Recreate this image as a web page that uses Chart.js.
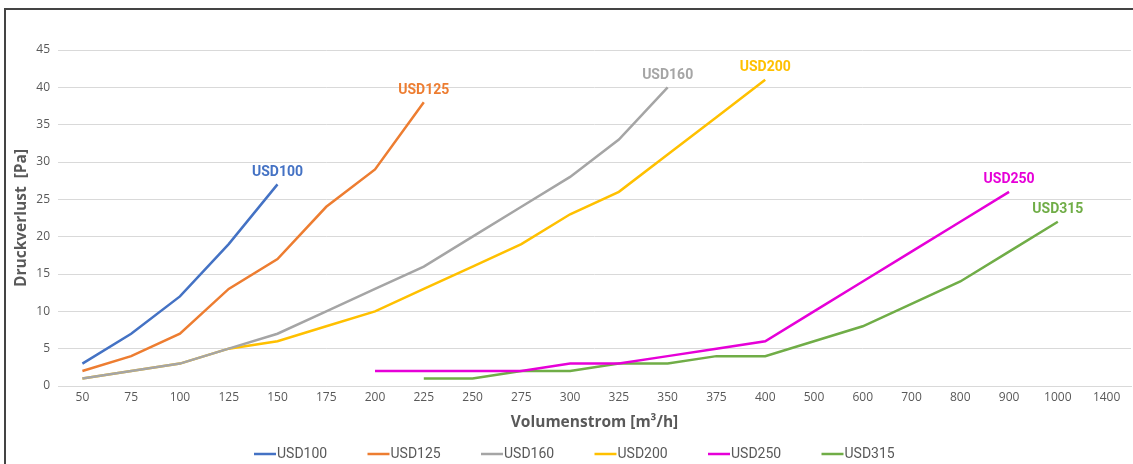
<!DOCTYPE html>
<html>
<head>
<meta charset="utf-8">
<script src="https://cdn.jsdelivr.net/npm/chart.js@4"></script>
<style>
  html, body { margin: 0; padding: 0; background: #fff; }
  #wrap { position: relative; width: 1133px; height: 464px; overflow: hidden; }
  #frame { position: absolute; left: 4px; top: 8px; width: 1200px; height: 500px;
           border-left: 2px solid #444; border-top: 2px solid #444; box-sizing: border-box; pointer-events: none; }
  canvas { position: absolute; left: 0; top: 0; }
</style>
</head>
<body>
<div id="wrap">
  <canvas id="chart" width="1133" height="464"></canvas>
  <div id="frame"></div>
</div>
<script>
// x categories (Volumenstrom m3/h)
const flows = ['50','75','100','125','150','175','200','225','250','275','300','325','350','375','400',
               '500','600','700','800','900','1000','1400'];

// pressure drop per model, null = no value
const usd100 = [3, 7, 12, 19, 27];
const usd125 = [2, 4, 7, 13, 17, 24, 29, 38];
const usd160 = [1, 2, 3, 5, 7, 10, 13, 16, 20, 24, 28, 33, 40];
const usd200 = [1, 2, 3, 5, 6, 8, 10, 13, 16, 19, 23, 26, 31, 36, 41];
const usd250 = [null, null, null, null, null, null, 2, 2, 2, 2, 3, 3, 4, 5, 6, 10, 14, 18, 22, 26];
const usd315 = [null, null, null, null, null, null, null, 1, 1, 2, 2, 3, 3, 4, 4, 6, 8, 11, 14, 18, 22];

const yTicks = [0, 5, 10, 15, 20, 25, 30, 35, 40, 45];

const series = [
  { label: 'USD100', data: usd100, color: '#4472C4' },
  { label: 'USD125', data: usd125, color: '#ED7D31' },
  { label: 'USD160', data: usd160, color: '#A5A5A5' },
  { label: 'USD200', data: usd200, color: '#FFC000' },
  { label: 'USD250', data: usd250, color: '#E600D8' },
  { label: 'USD315', data: usd315, color: '#70AD47' }
];

// series name written above the last point of each line
const endLabels = {
  id: 'endLabels',
  afterDatasetsDraw(chart) {
    const ctx = chart.ctx;
    ctx.save();
    ctx.font = 'bold 14px Roboto';
    ctx.textAlign = 'center';
    ctx.textBaseline = 'bottom';
    chart.data.datasets.forEach((ds, i) => {
      const pts = chart.getDatasetMeta(i).data;
      let last = ds.data.length - 1;
      while (last >= 0 && ds.data[last] == null) last--;
      const p = pts[last];
      ctx.fillStyle = ds.borderColor;
      ctx.fillText(ds.label, p.x, p.y - 5);
    });
    ctx.restore();
  }
};

// legend row at the bottom: short line touching the name, Excel style
const bottomLegend = {
  id: 'bottomLegend',
  afterDraw(chart) {
    const ctx = chart.ctx;
    const y = 454;
    let x = 254;
    ctx.save();
    ctx.font = '14px Roboto';
    ctx.textBaseline = 'middle';
    ctx.textAlign = 'left';
    chart.data.datasets.forEach(ds => {
      ctx.strokeStyle = ds.borderColor;
      ctx.lineWidth = 2.5;
      ctx.beginPath();
      ctx.moveTo(x, y);
      ctx.lineTo(x + 22, y);
      ctx.stroke();
      ctx.fillStyle = '#595959';
      ctx.fillText(ds.label, x + 23, y);
      x += 113.5;
    });
    ctx.restore();
  }
};

new Chart(document.getElementById('chart'), {
  type: 'line',
  data: {
    labels: flows,
    datasets: series.map(s => ({
      label: s.label,
      data: s.data,
      borderColor: s.color,
      backgroundColor: s.color,
      borderWidth: 2.5,
      pointRadius: 0,
      tension: 0,
      spanGaps: false
    }))
  },
  options: {
    responsive: false,
    animation: false,
    layout: { padding: { top: 50, left: 12, right: 2, bottom: 32 } },
    plugins: {
      tooltip: { enabled: false },
      legend: { display: false }
    },
    scales: {
      x: {
        offset: true,
        afterFit(axis) { axis.height = 46; },
        grid: { display: false, drawTicks: false },
        border: { color: '#D9D9D9', width: 1 },
        ticks: { color: '#595959', font: { family: 'Open Sans', size: 12 }, maxRotation: 0, autoSkip: false, padding: 4 },
        title: {
          display: true,
          text: 'Volumenstrom [m³/h]',
          color: '#595959',
          font: { family: 'Open Sans', size: 15.5, weight: 'bold' },
          padding: { top: 0, bottom: 0 }
        }
      },
      y: {
        min: 0,
        max: 45,
        afterBuildTicks(axis) { axis.ticks = yTicks.map(v => ({ value: v })); },
        afterFit(axis) { axis.width = 46; },
        grid: { color: '#D9D9D9', drawTicks: false },
        border: { display: false },
        ticks: { color: '#595959', font: { family: 'Open Sans', size: 12 }, padding: 8 },
        title: {
          display: true,
          text: 'Druckverlust  [Pa]',
          color: '#595959',
          font: { family: 'Open Sans', size: 15.5, weight: 'bold' },
          padding: { top: 0, bottom: 0 }
        }
      }
    }
  },
  plugins: [endLabels, bottomLegend]
});
</script>
</body>
</html>
